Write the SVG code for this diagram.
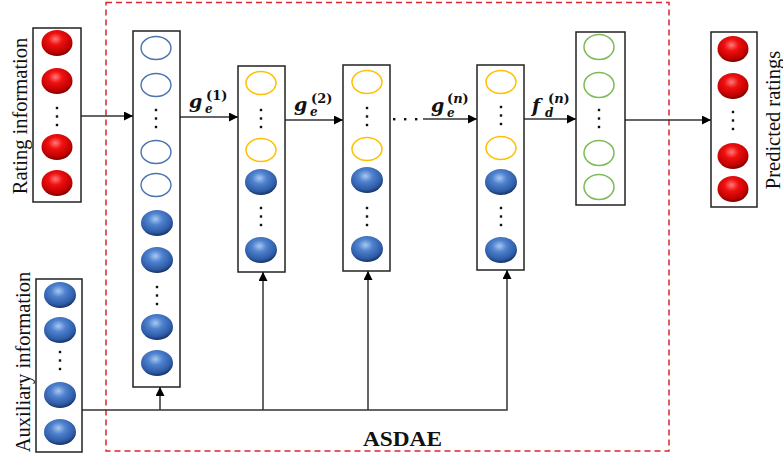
<svg xmlns="http://www.w3.org/2000/svg" width="783" height="459" viewBox="0 0 783 459">
<defs>
<radialGradient id="gRed" cx="0.45" cy="0.35" r="0.65">
<stop offset="0" stop-color="#ff7a7a"/>
<stop offset="0.35" stop-color="#f01010"/>
<stop offset="0.8" stop-color="#c00000"/>
<stop offset="1" stop-color="#7a0000"/>
</radialGradient>
<radialGradient id="gBlue" cx="0.45" cy="0.35" r="0.65">
<stop offset="0" stop-color="#a9c8f0"/>
<stop offset="0.35" stop-color="#4f82cf"/>
<stop offset="0.8" stop-color="#2d5aa6"/>
<stop offset="1" stop-color="#163262"/>
</radialGradient>
<marker id="arr" viewBox="0 0 10 10" refX="10" refY="5" markerWidth="10" markerHeight="9" markerUnits="userSpaceOnUse" orient="auto">
<path d="M0,0 L10,5 L0,10 Z" fill="#000"/>
</marker>
<ellipse id="rb" rx="15.5" ry="13" fill="url(#gRed)"/>
<ellipse id="bb" rx="16" ry="13" fill="url(#gBlue)"/>
<ellipse id="bo" rx="15" ry="11.5" fill="none" stroke="#4a72b0" stroke-width="1.4"/>
<ellipse id="yo" rx="15" ry="11.5" fill="none" stroke="#ffc000" stroke-width="1.5"/>
<ellipse id="go" rx="15" ry="12.5" fill="none" stroke="#7dba58" stroke-width="1.5"/>
<g id="vd"><rect x="-1.2" y="-1.2" width="2.4" height="2.4" fill="#111"/><rect x="-1.2" y="7.3" width="2.4" height="2.4" fill="#111"/><rect x="-1.2" y="15.8" width="2.4" height="2.4" fill="#111"/></g>
</defs>
<style>
.box{fill:#fff;stroke:#222;stroke-width:1.5}
.lbl{font-family:"Liberation Serif","Times New Roman",serif;font-size:20.5px;fill:#111}
.mi{font-family:"DejaVu Serif",serif;font-weight:bold;font-style:italic;fill:#111}
.sup{font-family:"DejaVu Serif",serif;font-weight:bold;font-size:13px;fill:#111}
.it{font-style:italic}
.con{stroke:#333;stroke-width:1.5;fill:none}
</style>
<rect x="106" y="2.5" width="563" height="448.5" fill="none" stroke="#d8262c" stroke-width="1.5" stroke-dasharray="6 4"/>
<text x="402.5" y="446" text-anchor="middle" font-family="Liberation Serif, Times New Roman, serif" font-weight="bold" font-size="20" textLength="79" lengthAdjust="spacingAndGlyphs" fill="#111">ASDAE</text>

<g id="connectors">
<line class="con" x1="81" y1="116" x2="133" y2="116" marker-end="url(#arr)"/>
<line class="con" x1="180" y1="117" x2="238" y2="117" marker-end="url(#arr)"/>
<line class="con" x1="285" y1="120" x2="343" y2="120" marker-end="url(#arr)"/>
<line class="con" x1="423" y1="119" x2="477" y2="119" marker-end="url(#arr)"/>
<line class="con" x1="524" y1="119" x2="576" y2="119" marker-end="url(#arr)"/>
<line class="con" x1="625" y1="120" x2="711" y2="120" marker-end="url(#arr)"/>
<polyline class="con" points="82,410 507,410 507,270" marker-end="url(#arr)"/>
<line class="con" x1="160" y1="410" x2="160" y2="387" marker-end="url(#arr)"/>
<line class="con" x1="263" y1="410" x2="263" y2="272" marker-end="url(#arr)"/>
<line class="con" x1="368" y1="410" x2="368" y2="271" marker-end="url(#arr)"/>
<g fill="#111"><rect x="393" y="118" width="2.4" height="2.4"/><rect x="404" y="118" width="2.4" height="2.4"/><rect x="415" y="118" width="2.4" height="2.4"/></g>
<text class="mi" x="189" y="108" font-size="19">g</text><text class="mi" x="205" y="113" font-size="12">e</text><text class="sup" x="206" y="100">(1)</text>
<text class="mi" x="294" y="111" font-size="19">g</text><text class="mi" x="310" y="116" font-size="12">e</text><text class="sup" x="311" y="103">(2)</text>
<text class="mi" x="431" y="112" font-size="19">g</text><text class="mi" x="447" y="117" font-size="12">e</text><text class="sup" x="447" y="103">(<tspan class="it">n</tspan>)</text>
<text class="mi" x="532" y="112" font-size="19">f</text><text class="mi" x="545" y="117" font-size="12">d</text><text class="sup" x="548" y="103">(<tspan class="it">n</tspan>)</text>
</g>

<g id="rating">
<rect class="box" x="33" y="28" width="48" height="174"/>
<use href="#rb" x="57" y="43"/><use href="#rb" x="57" y="81"/><use href="#rb" x="57" y="147"/><use href="#rb" x="57" y="183"/>
<use href="#vd" x="57" y="108"/>
<text class="lbl" transform="translate(27,116) rotate(-90)" text-anchor="middle">Rating information</text>
</g>

<g id="auxiliary">
<rect class="box" x="36" y="279" width="46" height="173"/>
<use href="#bb" x="60" y="295"/><use href="#bb" x="60" y="330"/><use href="#bb" x="60" y="395"/><use href="#bb" x="60" y="432"/>
<use href="#vd" x="60" y="352"/>
<text class="lbl" transform="translate(30,362) rotate(-90)" text-anchor="middle">Auxiliary information</text>
</g>

<g id="layer1">
<rect class="box" x="133" y="31" width="47" height="356"/>
<use href="#bo" x="156" y="48"/><use href="#bo" x="156" y="85"/><use href="#bo" x="156" y="152"/><use href="#bo" x="156" y="185"/>
<use href="#vd" x="156" y="110"/>
<use href="#bb" x="157" y="223"/><use href="#bb" x="157" y="260"/><use href="#bb" x="157" y="327"/><use href="#bb" x="157" y="363"/>
<use href="#vd" x="157" y="287"/>
</g>

<g id="layer2">
<rect class="box" x="238" y="66" width="47" height="206"/>
<use href="#yo" x="261" y="83"/><use href="#yo" x="261" y="150"/>
<use href="#vd" x="261" y="110"/>
<use href="#bb" x="261" y="182"/><use href="#bb" x="261" y="250"/>
<use href="#vd" x="261" y="208"/>
</g>

<g id="layer3">
<rect class="box" x="343" y="65" width="47" height="206"/>
<use href="#yo" x="367" y="82"/><use href="#yo" x="367" y="149"/>
<use href="#vd" x="367" y="108"/>
<use href="#bb" x="367" y="180"/><use href="#bb" x="367" y="249"/>
<use href="#vd" x="367" y="208"/>
</g>

<g id="layerN">
<rect class="box" x="477" y="65" width="47" height="205"/>
<use href="#yo" x="501" y="82"/><use href="#yo" x="501" y="148"/>
<use href="#vd" x="501" y="107"/>
<use href="#bb" x="501" y="182"/><use href="#bb" x="501" y="250"/>
<use href="#vd" x="501" y="208"/>
</g>

<g id="decoder">
<rect class="box" x="576" y="32" width="49" height="173"/>
<use href="#go" x="599" y="47"/><use href="#go" x="599" y="85"/><use href="#go" x="599" y="153"/><use href="#go" x="599" y="187"/>
<use href="#vd" x="599" y="110"/>
</g>

<g id="predicted">
<rect class="box" x="711" y="32" width="46" height="175"/>
<use href="#rb" x="733" y="49"/><use href="#rb" x="733" y="86"/><use href="#rb" x="733" y="156"/><use href="#rb" x="733" y="189"/>
<use href="#vd" x="733" y="112"/>
<text class="lbl" transform="translate(780,120) rotate(-90)" text-anchor="middle">Predicted ratings</text>
</g>
</svg>
